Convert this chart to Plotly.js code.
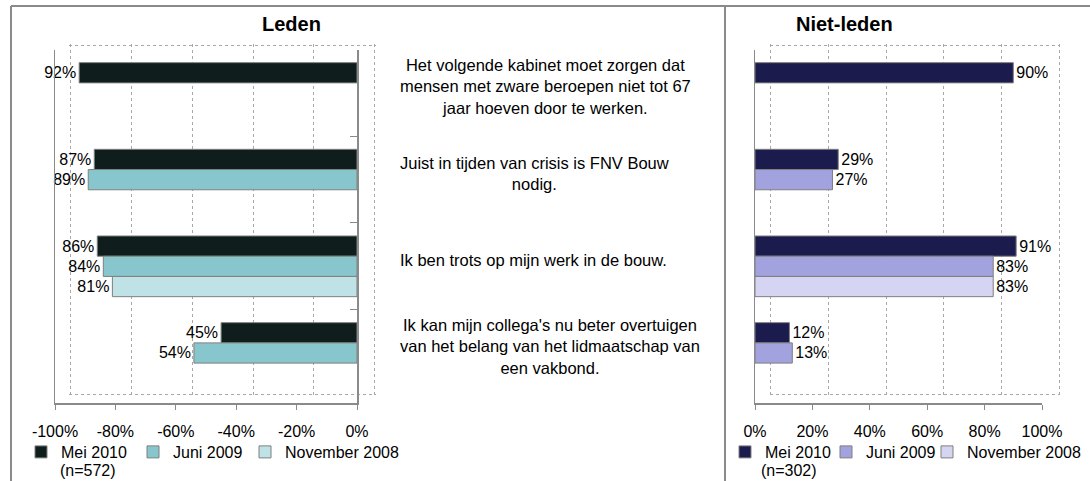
<!DOCTYPE html>
<html><head><meta charset="utf-8">
<script src="https://cdn.plot.ly/plotly-3.0.1.min.js"></script>
<style>html,body{margin:0;padding:0;background:#fff;overflow:hidden;}#chart{width:1090px;height:481px;}</style>
</head><body><div id="chart"></div>
<script>
// ---- data ----
const categories = [
  "Het volgende kabinet moet zorgen dat<br>mensen met zware beroepen niet tot 67<br>jaar hoeven door te werken.",
  "Juist in tijden van crisis is FNV Bouw<br>nodig.",
  "Ik ben trots op mijn werk in de bouw.",
  "Ik kan mijn collega's nu beter overtuigen<br>van het belang van het lidmaatschap van<br>een vakbond."
];
const seriesNames = ["Mei 2010", "Juni 2009", "November 2008"];
const ledenMei2010 = [92, 87, 86, 45];
const ledenJuni2009 = [null, 89, 84, 54];
const ledenNov2008 = [null, null, 81, null];
const nietMei2010 = [90, 29, 91, 12];
const nietJuni2009 = [null, 27, 83, 13];
const nietNov2008 = [null, null, 83, null];
const ledenTickVals = [-100, -80, -60, -40, -20, 0];
const ledenTickText = ["-100%", "-80%", "-60%", "-40%", "-20%", "0%"];
const nietTickVals = [0, 20, 40, 60, 80, 100];
const nietTickText = ["0%", "20%", "40%", "60%", "80%", "100%"];
const panelTitles = ["Leden", "Niet-leden"];
const sampleSizes = ["(n=572)", "(n=302)"];

// ---- styling ----
const FONT = "Liberation Sans, Arial, sans-serif";
const ledenColors = ["#0f1e1d", "#88c6cd", "#bee2e5"];
const nietColors = ["#1c1b4e", "#a2a2df", "#d5d5f3"];
const px = v => v / 1090, py = v => 1 - v / 481;
const lineGray = "#8a8a8a";

function mkTrace(vals, idx, color, negative, xa, ya, lg) {
  const t = {
    type: "bar", orientation: "h", name: seriesNames[idx],
    x: vals.map(v => v == null ? null : (negative ? -v : v)),
    y: categories,
    text: vals.map(v => v == null ? "" : v + "%"),
    textposition: "outside", cliponaxis: false, constraintext: "none",
    textfont: {family: FONT, size: 16, color: "#000"},
    marker: {color: color, line: {color: "#7f7f7f", width: 1}},
    xaxis: xa, yaxis: ya, legend: lg, hoverinfo: "skip"
  };
  if (idx === seriesNames.length - 1) t.legendwidth = 112;
  return t;
}

const ledenSeries = [ledenMei2010, ledenJuni2009, ledenNov2008];
const nietSeries = [nietMei2010, nietJuni2009, nietNov2008];
const data = [
  // empty traces that only open the back-wall grid subplots
  {type: "scatter", x: [], y: [], xaxis: "x", yaxis: "y", showlegend: false, hoverinfo: "skip"},
  {type: "scatter", x: [], y: [], xaxis: "x2", yaxis: "y2", showlegend: false, hoverinfo: "skip"}
];
ledenSeries.forEach((s, i) => data.push(mkTrace(s, i, ledenColors[i], true, "x3", "y3", "legend")));
nietSeries.forEach((s, i) => data.push(mkTrace(s, i, nietColors[i], false, "x4", "y4", "legend2")));

const wallX = (dom, rng, vals, anchor) => ({
  domain: dom, range: rng, anchor: anchor, tickvals: vals, showticklabels: false, ticks: "",
  showgrid: true, griddash: "dot", gridcolor: "#a8a8a8", gridwidth: 1, zeroline: false, showline: false, fixedrange: true
});
const wallY = (anchor) => ({
  domain: [py(396), py(44)], range: [-0.005, 1.005], anchor: anchor, tickvals: [0, 1], showticklabels: false, ticks: "",
  showgrid: true, griddash: "dot", gridcolor: "#a8a8a8", gridwidth: 1, zeroline: false, showline: false, fixedrange: true
});
const barY = (anchor, side, mirror, ticks) => ({
  type: "category", categoryorder: "array", categoryarray: categories,
  domain: [py(403), py(50)], range: [3.577, -0.496], anchor: anchor, side: side,
  showline: true, linecolor: lineGray, linewidth: 1.5, mirror: mirror,
  ticks: ticks, ticklen: 7, tickcolor: lineGray, tickson: "boundaries",
  showticklabels: false, showgrid: false, zeroline: false, fixedrange: true
});
const barX = (dom, rng, vals, text, anchor) => ({
  domain: dom, range: rng, anchor: anchor, tickvals: vals, ticktext: text,
  ticks: "outside", ticklen: 5, tickcolor: lineGray, showline: true, linecolor: lineGray, linewidth: 1.5,
  showgrid: false, zeroline: false, tickfont: {family: FONT, size: 16, color: "#000"},
  ticklabelstandoff: 8, fixedrange: true
});

const annotations = [
  {text: "<b>" + panelTitles[0] + "</b>", xref: "paper", yref: "paper", x: px(291), y: py(24), xanchor: "center", yanchor: "middle", showarrow: false, font: {family: FONT, size: 20, color: "#000"}},
  {text: "<b>" + panelTitles[1] + "</b>", xref: "paper", yref: "paper", x: px(844), y: py(24), xanchor: "center", yanchor: "middle", showarrow: false, font: {family: FONT, size: 20, color: "#000"}},
  {text: sampleSizes[0], xref: "paper", yref: "paper", x: px(58), y: py(470), xanchor: "left", yanchor: "middle", showarrow: false, font: {family: FONT, size: 16, color: "#000"}},
  {text: sampleSizes[1], xref: "paper", yref: "paper", x: px(759), y: py(470), xanchor: "left", yanchor: "middle", showarrow: false, font: {family: FONT, size: 16, color: "#000"}}
];
categories.forEach((c, i) => annotations.push({
  text: c, xref: "paper", yref: "y3", x: px(398), y: i, yshift: 6, xanchor: "left", yanchor: "middle",
  align: "center", showarrow: false, font: {family: FONT, size: 16.5, color: "#000"}
}));

const shapes = [
  {type: "line", xref: "paper", yref: "paper", x0: px(11), x1: 1, y0: py(6), y1: py(6), line: {color: lineGray, width: 2}},
  {type: "line", xref: "paper", yref: "paper", x0: px(11), x1: px(11), y0: py(6), y1: 0, line: {color: lineGray, width: 2}},
  {type: "line", xref: "paper", yref: "paper", x0: px(725), x1: px(725), y0: py(6), y1: 0, line: {color: lineGray, width: 2}}
];

const legendBase = {
  orientation: "h", yanchor: "middle", xanchor: "left", y: py(452),
  font: {family: FONT, size: 16, color: "#000"}, bgcolor: "rgba(0,0,0,0)",
  entrywidthmode: "pixels", traceorder: "normal", itemclick: false, itemdoubleclick: false
};

const layout = {
  width: 1090, height: 481, margin: {l: 0, r: 0, t: 0, b: 0, autoexpand: false},
  paper_bgcolor: "#fff", plot_bgcolor: "rgba(0,0,0,0)",
  font: {family: FONT, size: 16, color: "#000"},
  barmode: "group", bargap: 0.3, bargroupgap: 0,
  showlegend: true,
  legend: Object.assign({}, legendBase, {x: px(21), entrywidth: 67}),
  legend2: Object.assign({}, legendBase, {x: px(725), entrywidth: 56}),
  xaxis: wallX([px(68.8), px(376.2)], [-100.4, 0.4], ledenTickVals, "y"),
  yaxis: wallY("x"),
  xaxis2: wallX([px(769.8), px(1060.2)], [-0.4, 100.4], nietTickVals, "y2"),
  yaxis2: wallY("x2"),
  xaxis3: barX([px(55), px(357)], [-100, 0], ledenTickVals, ledenTickText, "y3"),
  yaxis3: barY("x3", "right", true, "inside"),
  xaxis4: barX([px(755), px(1042)], [0, 100], nietTickVals, nietTickText, "y4"),
  yaxis4: barY("x4", "left", false, ""),
  annotations: annotations,
  shapes: shapes
};

Plotly.newPlot("chart", data, layout, {staticPlot: true, displayModeBar: false});
</script>
</body></html>
